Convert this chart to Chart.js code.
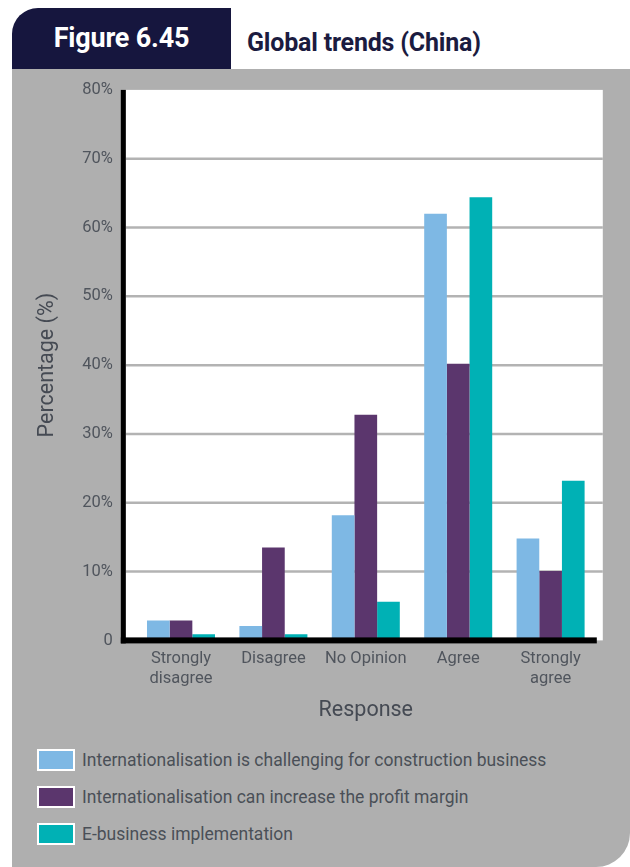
<!DOCTYPE html>
<html>
<head>
<meta charset="utf-8">
<script src="https://cdn.jsdelivr.net/npm/chart.js@4"></script>
<style>
  html, body { margin: 0; padding: 0; background: #ffffff; }
  #page { position: relative; width: 630px; height: 867px; overflow: hidden; font-family: Roboto, "Liberation Sans", sans-serif; }
  #tag { position: absolute; left: 12px; top: 8px; width: 219px; height: 61px; background: #16163e; border-top-left-radius: 26px;
         color: #ffffff; font-weight: bold; font-size: 27px; line-height: 61px; text-align: center; letter-spacing: -0.2px; }
  #title { position: absolute; left: 247px; top: 27px; color: #1b1b40; font-weight: bold; font-size: 25px; line-height: 32px; letter-spacing: -0.2px; }
  #panel { position: absolute; left: 12px; top: 69px; width: 618px; height: 798px; background: #afafaf; border-bottom-right-radius: 34px; }
  #wrap { position: absolute; left: 0; top: 58px; width: 630px; height: 670px; }
  #wrap canvas { display: block; }
  #legend { position: absolute; left: 37px; top: 749px; }
  .row { position: relative; height: 22px; margin-bottom: 15px; }
  .box { position: absolute; left: 0; top: 0; width: 34px; height: 18px; border: 2px solid #ffffff; }
  .lab { position: absolute; left: 45px; top: 0; height: 22px; line-height: 22px; white-space: nowrap; font-size: 17.5px; color: #4a4f57; }
</style>
</head>
<body>
<div id="page">
  <div id="panel"></div>
  <div id="tag">Figure 6.45</div>
  <div id="title">Global trends (China)</div>
  <div id="wrap"><canvas id="c" width="630" height="670"></canvas></div>
  <div id="legend"></div>
</div>
<script>
const categories = [["Strongly", "disagree"], "Disagree", "No Opinion", "Agree", ["Strongly", "agree"]];
const seriesNames = [
  "Internationalisation is challenging for construction business",
  "Internationalisation can increase the profit margin",
  "E-business implementation"
];
const challenging = [2.9, 2.1, 18.2, 62.0, 14.8];
const profitMargin = [2.9, 13.5, 32.8, 40.2, 10.1];
const eBusiness = [0.9, 0.9, 5.6, 64.4, 23.2];
const yTicks = [0, 10, 20, 30, 40, 50, 60, 70, 80];
const seriesColors = ["#7eb8e4", "#5b366d", "#00b1b5"];

const tickColor = "#50555d";
const fontFam = "Roboto, 'Liberation Sans', sans-serif";

const frame = {
  id: "frame",
  beforeDatasetsDraw(chart) {
    const ctx = chart.ctx, y = chart.scales.y, a = chart.chartArea;
    const left = a.left - 9, right = a.right + 6;
    const top = y.getPixelForValue(80), bottom = y.getPixelForValue(0);
    ctx.save();
    ctx.fillStyle = "#ffffff";
    ctx.fillRect(left, top, right - left, bottom - top);
    ctx.strokeStyle = "#b3b3b3";
    ctx.lineWidth = 2.5;
    yTicks.forEach(v => {
      if (v === 0 || v === 80) return;
      const p = y.getPixelForValue(v);
      ctx.beginPath(); ctx.moveTo(left, p); ctx.lineTo(right, p); ctx.stroke();
    });
    ctx.restore();
  },
  afterDatasetsDraw(chart) {
    const ctx = chart.ctx, y = chart.scales.y, a = chart.chartArea;
    const top = y.getPixelForValue(80), zero = y.getPixelForValue(0);
    ctx.save();
    ctx.fillStyle = "#000000";
    ctx.fillRect(a.left - 14, top, 5, zero + 3 - top);
    ctx.fillRect(a.left - 14, zero - 3, a.right - a.left + 14, 6);
    ctx.restore();
  }
};

const chart = new Chart(document.getElementById("c"), {
  type: "bar",
  data: {
    labels: categories,
    datasets: [
      { label: seriesNames[0], data: challenging, backgroundColor: seriesColors[0] },
      { label: seriesNames[1], data: profitMargin, backgroundColor: seriesColors[1] },
      { label: seriesNames[2], data: eBusiness, backgroundColor: seriesColors[2] }
    ]
  },
  options: {
    responsive: false,
    animation: false,
    layout: { padding: { left: 31, right: 33.2, top: 9, bottom: 0 } },
    datasets: { bar: { barPercentage: 1.0, categoryPercentage: 0.736, borderWidth: 0 } },
    plugins: { legend: { display: false }, tooltip: { enabled: false } },
    scales: {
      x: {
        grid: { display: false, drawTicks: false },
        border: { display: false },
        ticks: { color: tickColor, font: { family: fontFam, size: 16.5, lineHeight: 1.22 }, padding: 8, maxRotation: 0, autoSkip: false },
        title: { display: true, text: "Response", color: "#454a53", font: { family: fontFam, size: 21.5 }, padding: 4 },
        afterFit: s => { s.height = 87.6; }
      },
      y: {
        min: 0, max: 80,
        afterBuildTicks: s => { s.ticks = yTicks.map(v => ({ value: v })); },
        grid: { display: false, drawTicks: false },
        border: { display: false },
        ticks: { color: tickColor, font: { family: fontFam, size: 16.5 }, padding: 22,
                 callback: v => v === 0 ? "0" : v + "%" },
        title: { display: true, text: "Percentage (%)", color: "#454a53", font: { family: fontFam, size: 21.5 }, padding: 4 },
        afterFit: s => { s.width = 103.8; }
      }
    }
  },
  plugins: [frame]
});

const legend = document.getElementById("legend");
chart.data.datasets.forEach(ds => {
  const row = document.createElement("div"); row.className = "row";
  const box = document.createElement("div"); box.className = "box"; box.style.background = ds.backgroundColor;
  const lab = document.createElement("div"); lab.className = "lab"; lab.textContent = ds.label;
  row.appendChild(box); row.appendChild(lab); legend.appendChild(row);
});
</script>
</body>
</html>
